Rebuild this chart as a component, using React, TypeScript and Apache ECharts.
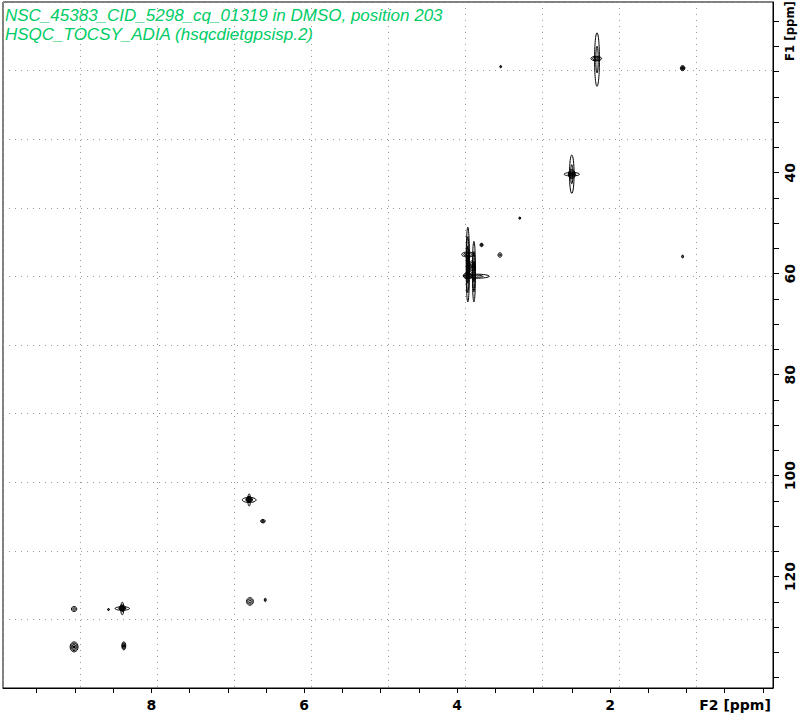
import React, { useEffect, useRef } from 'react';
import * as echarts from 'echarts';

// Spectrum window (ppm)
const f2Range = [-0.132, 9.94];
const f1Range = [6.2, 142.04];

// Axis tick / label values
const f2TickValues = [0, 0.5, 1, 1.5, 2, 2.5, 3, 3.5, 4, 4.5, 5, 5.5, 6, 6.5, 7, 7.5, 8, 8.5, 9, 9.5];
const f2LabelValues = [2, 4, 6, 8];
const f1TickValues = [10, 15, 20, 25, 30, 35, 40, 45, 50, 55, 60, 65, 70, 75, 80, 85, 90, 95, 100, 105, 110, 115, 120, 125, 130, 135, 140];
const f1LabelValues = [40, 60, 80, 100, 120];

// Cross-peak contours: centre (F2, F1 ppm), half widths (ppm), number of contour levels
const peakF2 = [2.17, 2.18, 1.05, 3.43, 2.5, 2.5, 2.5, 3.18, 3.86, 3.78, 3.75, 3.86, 3.8, 3.86, 3.68, 3.44, 1.05, 6.72, 6.72, 6.72, 6.54, 6.71, 6.51, 9.01, 8.38, 8.38, 8.38, 8.56, 9.01, 8.36];
const peakF1 = [17.6, 17.4, 19.3, 19.0, 40.3, 40.3, 40.3, 49.0, 58.2, 59.6, 60.5, 56.2, 58.6, 60.4, 54.3, 56.3, 56.6, 104.8, 104.8, 104.7, 109.0, 124.9, 124.6, 126.4, 126.3, 126.3, 126.2, 126.5, 133.9, 133.7];
const peakHalfWidthF2 = [0.032, 0.07, 0.03, 0.012, 0.03, 0.1, 0.045, 0.012, 0.022, 0.02, 0.17, 0.08, 0.04, 0.06, 0.02, 0.025, 0.012, 0.09, 0.018, 0.04, 0.03, 0.045, 0.012, 0.035, 0.094, 0.02, 0.04, 0.012, 0.052, 0.026];
const peakHalfWidthF1 = [5.3, 0.45, 0.5, 0.22, 3.8, 0.35, 0.9, 0.22, 7.4, 6.0, 0.4, 0.5, 1.2, 0.6, 0.35, 0.45, 0.3, 0.5, 1.2, 0.6, 0.35, 0.75, 0.35, 0.5, 0.35, 1.25, 0.6, 0.2, 1.0, 0.8];
const peakLevels = [2, 3, 4, 2, 2, 2, 4, 2, 4, 3, 2, 3, 4, 4, 3, 2, 2, 2, 2, 4, 3, 3, 2, 2, 2, 2, 4, 2, 4, 4];

const titleLines = ['NSC_45383_CID_5298_cq_01319 in DMSO, position 203', 'HSQC_TOCSY_ADIA (hsqcdietgpsisp.2)'];
const f2Name = 'F2 [ppm]';
const f1Name = 'F1 [ppm]';

const peakData = peakF2.map((x, i) => [x, peakF1[i], peakHalfWidthF2[i], peakHalfWidthF1[i], peakLevels[i]]);

const axisFont = { fontFamily: 'DejaVu Sans', fontWeight: 'bold' as const, fontSize: 14, color: '#000' };
const gridLine = { show: true, lineStyle: { color: '#999', width: 1, type: [1, 5] as any } };

function renderPeak(params: any, api: any) {
  const x = api.value(0);
  const y = api.value(1);
  const rx = api.value(2);
  const ry = api.value(3);
  const n = api.value(4);
  const c = api.coord([x, y]);
  const s = api.size([rx, ry]);
  const w = Math.abs(s[0]);
  const h = Math.abs(s[1]);
  const children: any[] = [];
  for (let k = 0; k < n; k++) {
    const f = 1 - k / n;
    const filled = n >= 4 && k === n - 1;
    children.push({
      type: 'ellipse',
      shape: { cx: c[0], cy: c[1], rx: Math.max(w * f, 0.8), ry: Math.max(h * f, 0.8) },
      style: { fill: filled ? '#000' : 'none', stroke: '#000', lineWidth: 1 },
    });
  }
  return { type: 'group', children };
}

export default function App() {
  const ref = useRef<HTMLDivElement>(null);
  useEffect(() => {
    if (!ref.current) return;
    const chart = echarts.init(ref.current, null, { renderer: 'svg' });
    chart.setOption({
      animation: false,
      backgroundColor: '#fff',
      grid: { left: 3, top: 2, width: 770, height: 686, show: true, borderColor: '#000', borderWidth: 1, backgroundColor: 'transparent' },
      xAxis: [
        {
          type: 'value', inverse: true, min: f2Range[0], max: f2Range[1], position: 'bottom',
          axisLine: { show: true, onZero: false, lineStyle: { color: '#000', width: 1 } },
          axisTick: { show: true, length: 5, inside: false, customValues: f2TickValues, lineStyle: { color: '#000' } },
          axisLabel: { show: true, customValues: f2LabelValues, margin: 10, ...axisFont },
          splitLine: { show: false },
        },
        {
          type: 'value', min: 0, max: 10, interval: 1, position: 'bottom',
          axisLine: { show: false }, axisTick: { show: false }, axisLabel: { show: false },
          splitLine: gridLine,
        },
      ],
      yAxis: [
        {
          type: 'value', inverse: true, min: f1Range[0], max: f1Range[1], position: 'right',
          axisLine: { show: true, onZero: false, lineStyle: { color: '#000', width: 1 } },
          axisTick: { show: true, length: 6, inside: false, customValues: f1TickValues, lineStyle: { color: '#000' } },
          axisLabel: { show: true, customValues: f1LabelValues, rotate: 90, margin: 10, ...axisFont },
          splitLine: { show: false },
        },
        {
          type: 'value', min: 0, max: 10, interval: 1, position: 'right',
          axisLine: { show: false }, axisTick: { show: false }, axisLabel: { show: false },
          splitLine: gridLine,
        },
      ],
      graphic: [
        { type: 'text', x: 5, y: 15.5, style: { text: titleLines[0], fill: '#00cc66', font: 'italic 17px "Liberation Sans"', verticalAlign: 'middle', align: 'left' } },
        { type: 'text', x: 5, y: 34.2, style: { text: titleLines[1], fill: '#00cc66', font: 'italic 17px "Liberation Sans"', verticalAlign: 'middle', align: 'left' } },
        { type: 'text', x: 735, y: 705, style: { text: f2Name, fill: '#000', font: 'bold 14px "DejaVu Sans"', verticalAlign: 'middle', align: 'center' } },
        { type: 'text', x: 789, y: 31, rotation: Math.PI / 2, style: { text: f1Name, fill: '#000', font: 'bold 13px "Liberation Sans Narrow", "DejaVu Sans Condensed", "Liberation Sans"', verticalAlign: 'middle', align: 'center' } },
      ],
      series: [
        {
          type: 'custom', xAxisIndex: 0, yAxisIndex: 0, clip: true,
          renderItem: renderPeak, data: peakData, silent: true,
        },
      ],
    });
    return () => chart.dispose();
  }, []);
  return <div ref={ref} style={{ position: 'fixed', left: 0, top: 0, width: 802, height: 717, background: '#fff' }} />;
}
